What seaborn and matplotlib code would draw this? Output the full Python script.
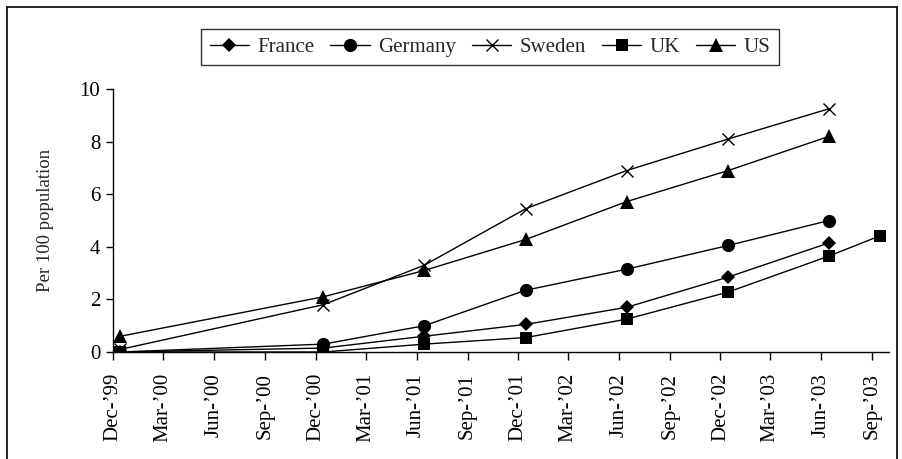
import matplotlib
matplotlib.use("Agg")
import matplotlib.pyplot as plt
import matplotlib.dates as mdates
from matplotlib.lines import Line2D
import seaborn as sns
import pandas as pd

# Data

dates = ["1999-12-15", "2000-12-15", "2001-06-15", "2001-12-15",
         "2002-06-15", "2002-12-15", "2003-06-15", "2003-09-15"]

france = [0.0, 0.15, 0.6, 1.05, 1.7, 2.85, 4.15, None]
germany = [0.0, 0.3, 1.0, 2.35, 3.15, 4.05, 5.0, None]
sweden = [0.1, 1.8, 3.3, 5.45, 6.9, 8.1, 9.25, None]
uk = [0.0, 0.0, 0.3, 0.55, 1.25, 2.28, 3.65, 4.42]
us = [0.6, 2.1, 3.1, 4.28, 5.72, 6.9, 8.2, None]

countries = ["France", "Germany", "Sweden", "UK", "US"]
values = [france, germany, sweden, uk, us]
markers = ["D", "o", "x", "s", "^"]
sizes = [7.5, 9.5, 9, 9, 10]

# Style

sns.set_style("ticks")
plt.rcParams["font.family"] = ["Liberation Serif", "DejaVu Serif"]
plt.rcParams["font.size"] = 15

fig = plt.figure(figsize=(9.03, 4.59), dpi=100)
ax = fig.add_axes([0.1248, 0.2331, 0.8597, 0.573])

df = pd.DataFrame({"date": pd.to_datetime(dates)})
for name, vals, m, s in zip(countries, values, markers, sizes):
    df[name] = vals
    sub = df[["date", name]].dropna()
    sns.lineplot(
        data=sub,
        x="date",
        y=name,
        marker=m,
        markersize=s,
        markeredgewidth=1.0 if m == "x" else 0,
        markeredgecolor="black",
        markerfacecolor="black",
        color="black",
        linewidth=1.0,
        ax=ax,
        label=name,
    )

# Axes

ax.set_xlim(pd.Timestamp("1999-12-01"), pd.Timestamp("2003-10-01"))
ax.set_ylim(0, 10)
ax.set_yticks([0, 2, 4, 6, 8, 10])
ticks = pd.date_range("1999-12-01", "2003-09-01", freq="3MS")
ax.set_xticks(ticks)
ax.xaxis.set_major_formatter(mdates.DateFormatter("%b-\u2019%y"))
plt.setp(ax.get_xticklabels(), rotation=90)
ax.set_xlabel("")
ax.set_ylabel("Per 100 population", labelpad=18, fontsize=13.5)
ax.tick_params(axis="both", direction="out", length=5, width=1,
               colors="black", labelsize=15, pad=4)
ax.tick_params(axis="x", length=6, pad=9)
sns.despine(ax=ax)
for sp in ["left", "bottom"]:
    ax.spines[sp].set_color("black")
    ax.spines[sp].set_linewidth(1)

# Legend

handles, labels = ax.get_legend_handles_labels()
ax.get_legend().remove()
leg = fig.legend(
    handles,
    labels,
    loc="center",
    bbox_to_anchor=(0.5427, 0.8976),
    ncol=5,
    frameon=True,
    fancybox=False,
    edgecolor="black",
    handlelength=1.9,
    handletextpad=0.4,
    columnspacing=0.75,
    borderpad=0.4,
    fontsize=15,
)
leg.get_frame().set_linewidth(1)

# Outer frame

fw, fh = 903, 459
fig.add_artist(Line2D([7 / fw, 7 / fw], [0, 1 - 7 / fh], color="black", lw=1.2))
fig.add_artist(Line2D([7 / fw, 897 / fw], [1 - 7 / fh, 1 - 7 / fh], color="black", lw=1.2))
fig.add_artist(Line2D([897 / fw, 897 / fw], [0, 1 - 7 / fh], color="black", lw=1.2))

fig.savefig("out.png", dpi=100)
